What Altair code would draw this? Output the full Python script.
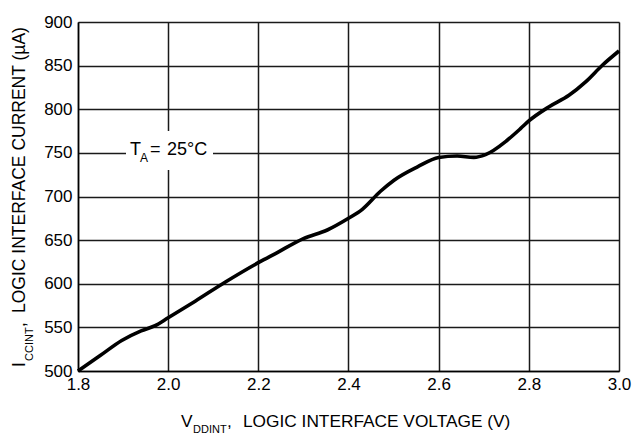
import altair as alt
import pandas as pd

# Curve
vddint = [1.80, 1.85, 1.897, 1.94, 1.971, 2.00, 2.06, 2.127, 2.203, 2.238, 2.30, 2.353,
          2.40, 2.43, 2.471, 2.501, 2.553, 2.60, 2.641, 2.678, 2.704, 2.752, 2.782,
          2.80, 2.844, 2.889, 2.926, 2.963, 3.00]
iccint = [500, 518, 535, 546, 552, 561, 580, 602, 625, 634.6, 651.8, 661.6,
          675, 685, 706, 718.7, 734, 744.7, 746.4, 744.9, 748, 764.5, 778,
          786.6, 802.6, 816, 831.4, 850.4, 866.8]

x_ticks = [1.8, 2.0, 2.2, 2.4, 2.6, 2.8, 3.0]
y_ticks = [500, 550, 600, 650, 700, 750, 800, 850, 900]

df = pd.DataFrame({"v": vddint, "i": iccint})
one = pd.DataFrame({"k": [0]})

FONT = "Liberation Sans"
W, H = 541, 349

x_enc = alt.X("v:Q", scale=alt.Scale(domain=[1.8, 3.0], nice=False),
              axis=alt.Axis(values=x_ticks, format=".1f", title=None, ticks=False, tickSize=0,
                            labelPadding=5, labelFontSize=17, labelFont=FONT, labelColor="black",
                            grid=True, gridColor="#1a1a1a", gridWidth=1.5,
                            domainColor="black", domainWidth=1.5, labelFlush=False))
y_enc = alt.Y("i:Q", scale=alt.Scale(domain=[500, 900], nice=False),
              axis=alt.Axis(values=y_ticks, title=None, ticks=False, tickSize=0,
                            labelPadding=6, labelFontSize=17, labelFont=FONT, labelColor="black",
                            grid=True, gridColor="#1a1a1a", gridWidth=1.5,
                            domainColor="black", domainWidth=1.5, labelFlush=False))

line = alt.Chart(df).mark_line(color="black", strokeWidth=3.6, interpolate="monotone").encode(
    x=x_enc, y=y_enc)

# white box behind annotation
box = alt.Chart(one).mark_rect(color="white").encode(
    x=alt.value(48), x2=alt.value(135), y=alt.value(109), y2=alt.value(148))

def txt(t, x, y, size=17, angle=None, align="left"):
    kw = dict(text=t, font=FONT, fontSize=size, fontWeight="normal", color="black",
              align=align, baseline="alphabetic")
    if angle is not None:
        kw["angle"] = angle
    return alt.Chart(one).mark_text(**kw).encode(x=alt.value(x), y=alt.value(y))

ann = [
    txt("T", 52, 133, 18),
    txt("A", 62, 140, 12),
    txt("=", 72, 133, 18),
    txt("25°C", 89, 133, 18),
]

xtitle = [
    txt("V", 103, 405, 17.3),
    txt("DDINT", 115, 411, 11),
    txt(",", 149, 405, 17.3),
    txt("LOGIC INTERFACE VOLTAGE (V)", 165, 405, 17.3),
]

ytitle = [
    txt("I", -53, 345, 17.5, angle=270),
    txt("CCINT", -45, 339, 11, angle=270),
    txt(",", -53, 305, 17.5, angle=270),
    txt("LOGIC INTERFACE CURRENT (µA)", -53, 291, 17.5, angle=270),
]

chart = alt.layer(line, box, *ann, *xtitle, *ytitle).properties(
    width=W, height=H,
    autosize=alt.AutoSizeParams(type="none"),
    padding={"left": 78, "top": 22, "right": 15, "bottom": 63},
).configure_view(stroke="black", strokeWidth=1.5).configure(background="white")

chart.save("out.html", embed_options={"renderer": "svg", "actions": False})
